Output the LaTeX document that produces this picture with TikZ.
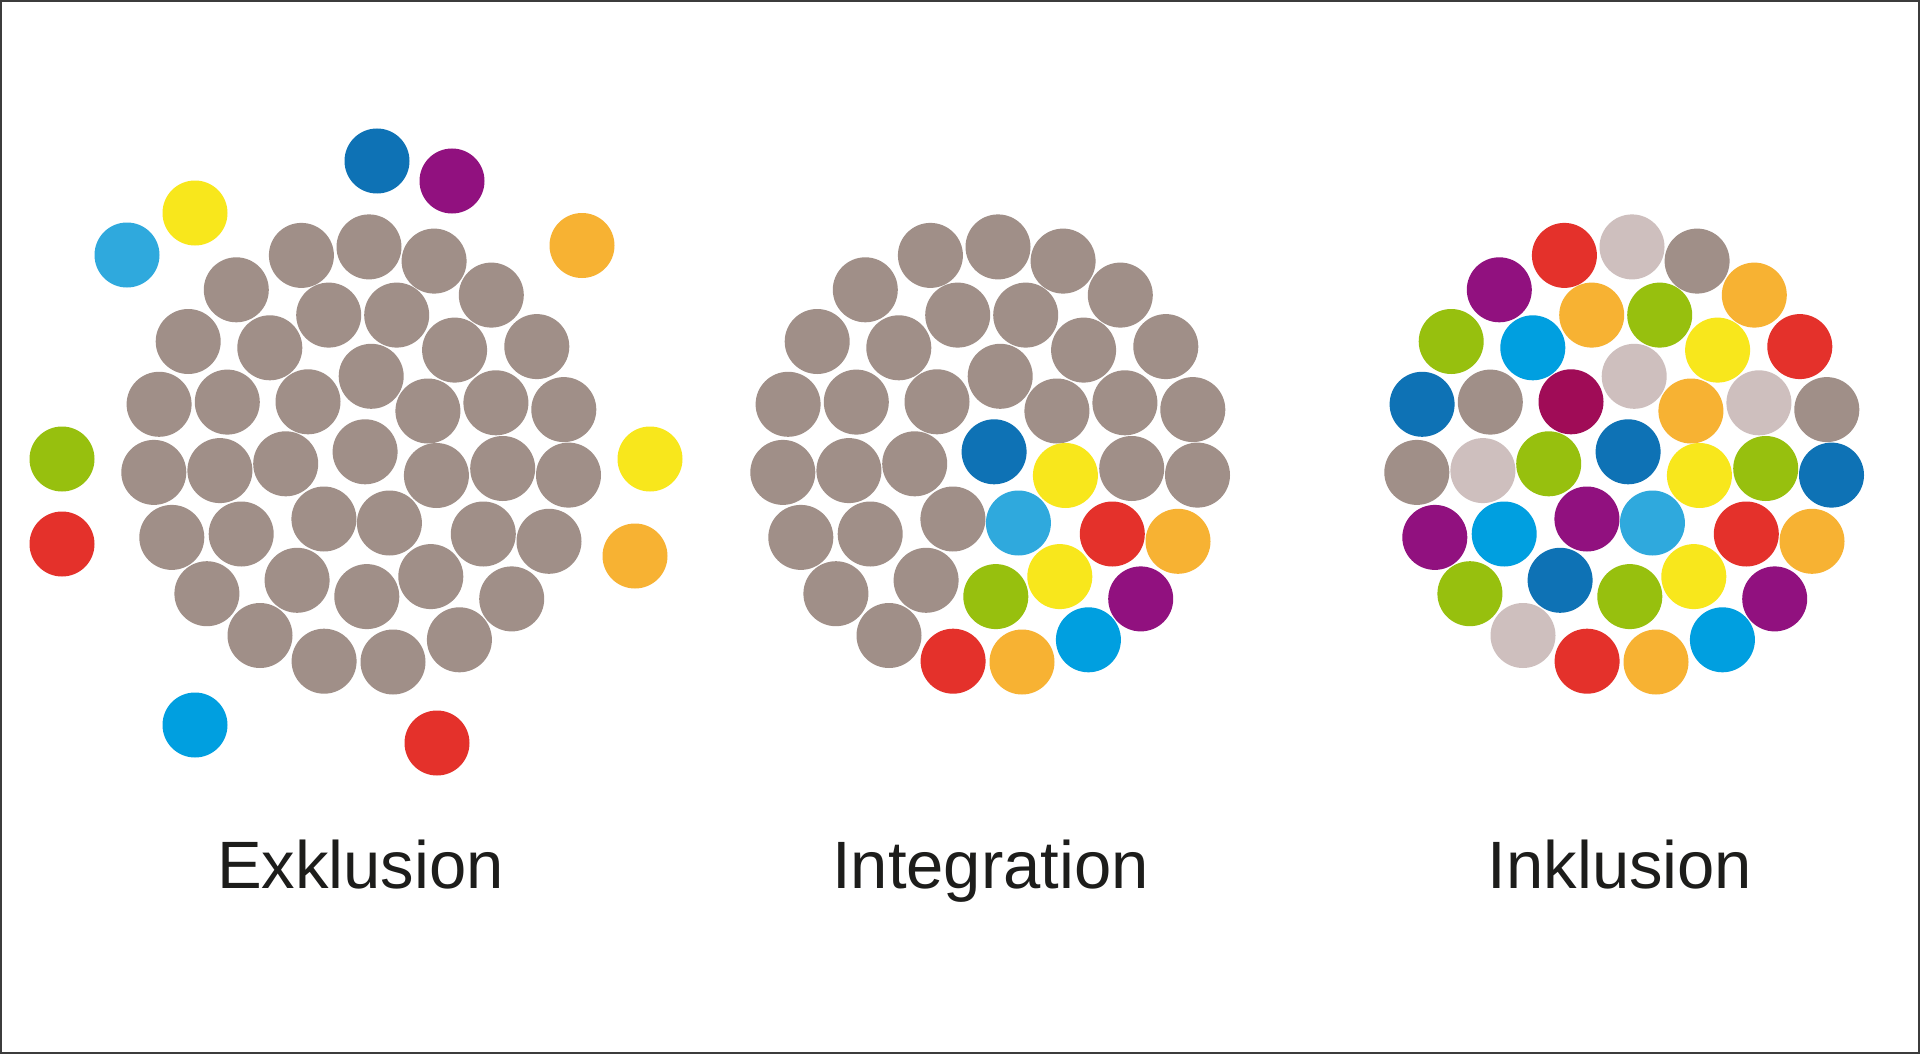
\documentclass[tikz,border=0pt]{standalone}
\usepackage{fontspec}
\setmainfont{Liberation Sans}
\usepackage{xcolor}
\usepackage{tikz}
\usetikzlibrary{positioning}

\definecolor{pgrey}{HTML}{A08F88}
\definecolor{plight}{HTML}{CEBFBE}
\definecolor{pnavy}{HTML}{0E72B5}
\definecolor{pblue}{HTML}{009FE0}
\definecolor{pcyan}{HTML}{2FA9DD}
\definecolor{pyellow}{HTML}{F8E71C}
\definecolor{porange}{HTML}{F7B233}
\definecolor{pred}{HTML}{E4312B}
\definecolor{pgreen}{HTML}{97C00E}
\definecolor{ppurple}{HTML}{91117F}
\definecolor{pberry}{HTML}{A00C57}
\definecolor{ptext}{HTML}{1D1D1B}
\definecolor{pframe}{HTML}{3C3C3C}

\tikzset{
  person/.style={fill=#1},
  caption/.style={anchor=base, text=ptext, inner sep=0pt, font=\fontsize{67}{80}\selectfont}
}

% base layout of one crowd: x/y/colour in Integration/colour in Inklusion
\newcommand{\crowdlayout}{%
301.4/255.4/pgrey/pred, 369.0/246.9/pgrey/plight, 434.1/261.1/pgrey/pgrey,
236.3/289.8/pgrey/ppurple, 328.7/315.1/pgrey/porange, 396.7/315.1/pgrey/pgreen,
491.3/295.1/pgrey/porange, 188.2/341.5/pgrey/pgreen, 269.8/347.8/pgrey/pblue,
454.6/350.1/pgrey/pyellow, 536.8/346.6/pgrey/pred, 371.2/376.3/pgrey/plight,
159.1/404.3/pgrey/pnavy, 227.3/402.1/pgrey/pgrey, 308.0/401.8/pgrey/pberry,
427.9/411.0/pgrey/porange, 495.9/402.8/pgrey/plight, 563.8/409.6/pgrey/pgrey,
365.1/451.8/pnavy/pnavy, 153.8/472.4/pgrey/pgrey, 219.9/470.6/pgrey/plight,
285.7/463.8/pgrey/pgreen, 436.4/475.5/pyellow/pyellow, 502.7/468.5/pgrey/pgreen,
568.5/475.1/pgrey/pnavy, 171.8/537.4/pgrey/ppurple, 241.2/534.0/pgrey/pblue,
323.9/519.0/pgrey/ppurple, 389.4/523.0/pcyan/pcyan, 483.3/534.0/pred/pred,
549.0/541.3/porange/porange, 206.9/593.7/pgrey/pgreen, 297.1/580.3/pgrey/pnavy,
366.8/596.6/pgreen/pgreen, 430.8/576.6/pyellow/pyellow, 511.7/598.9/ppurple/ppurple,
260.0/635.5/pgrey/plight, 324.1/661.2/pred/pred, 393.0/662.0/porange/porange,
459.4/639.8/pblue/pblue}

\begin{document}
\begin{tikzpicture}[x=1pt, y=-1pt]

\useasboundingbox (0,0) rectangle (1920,1054);
\fill[white] (0,0) rectangle (1920,1054);
\draw[line width=2, pframe] (1,1) rectangle (1919,1053);

% the three crowds
\foreach \px/\py/\cint/\cinc in \crowdlayout {
  \fill[person=pgrey] (\px,\py) circle (32.5);
  \fill[person=\cint] (\px+629,\py) circle (32.5);
  \fill[person=\cinc] (\px+1263,\py) circle (32.5);
}

% the ones left outside
\foreach \px/\py/\c in {377/161/pnavy, 452/181/ppurple, 195/213/pyellow, 127/255/pcyan,
    582/245.5/porange, 62/459/pgreen, 62/544/pred, 650/459/pyellow,
    635/556/porange, 195/725/pblue, 437/743/pred} {
  \fill[person=\c] (\px,\py) circle (32.5);
}

% captions
\node[caption] (exkl) at (360.5,888) {Exklusion};
\node[caption] (integ) at (990.5,888) {Integration};
\node[caption] (inkl) at (1620,888) {Inklusion};

\end{tikzpicture}
\end{document}
